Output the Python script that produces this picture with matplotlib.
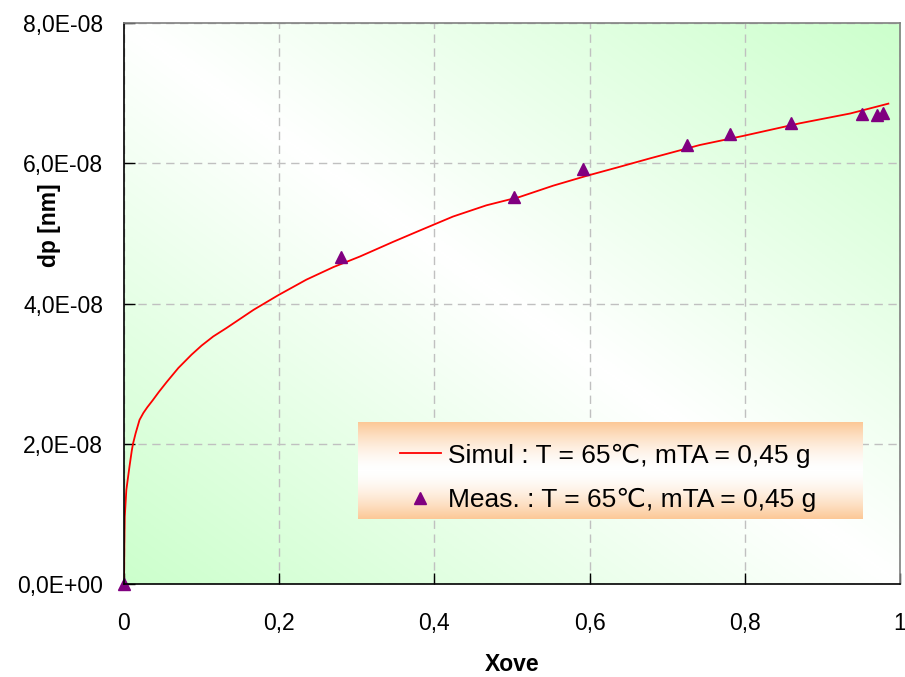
import numpy as np
import matplotlib
matplotlib.use("Agg")
import matplotlib.pyplot as plt
from matplotlib.colors import LinearSegmentedColormap
from matplotlib.ticker import FixedLocator, FuncFormatter

plt.rcParams['font.family'] = ['Liberation Sans', 'DejaVu Sans']

## Simulated curve
simX = [0.0, 0.0005, 0.001, 0.003, 0.007, 0.010, 0.0116, 0.015, 0.020, 0.025, 0.030,
        0.037, 0.045, 0.055, 0.070, 0.087, 0.100, 0.115, 0.132, 0.167, 0.199, 0.235,
        0.270, 0.304, 0.347, 0.381, 0.424, 0.467, 0.510, 0.553, 0.596, 0.639, 0.678,
        0.742, 0.798, 0.871, 0.936, 0.985]
simY = [0.0, 0.60e-8, 0.96e-8, 1.34e-8, 1.67e-8, 1.90e-8, 2.00e-8, 2.15e-8, 2.34e-8, 2.44e-8, 2.52e-8,
        2.62e-8, 2.74e-8, 2.88e-8, 3.08e-8, 3.27e-8, 3.40e-8, 3.53e-8, 3.65e-8, 3.91e-8, 4.12e-8, 4.34e-8,
        4.52e-8, 4.67e-8, 4.88e-8, 5.04e-8, 5.24e-8, 5.40e-8, 5.52e-8, 5.68e-8, 5.82e-8, 5.95e-8, 6.07e-8,
        6.26e-8, 6.39e-8, 6.57e-8, 6.71e-8, 6.85e-8]

## Measured points
measX = [0.0, 0.28, 0.503, 0.592, 0.726, 0.781, 0.859, 0.951, 0.971, 0.978]
measY = [0.0, 4.66e-8, 5.52e-8, 5.92e-8, 6.26e-8, 6.42e-8, 6.57e-8, 6.70e-8, 6.69e-8, 6.72e-8]

xTicks = [0, 0.2, 0.4, 0.6, 0.8, 1.0]
yTicks = [0, 2e-8, 4e-8, 6e-8, 8e-8]

simLabel = "Simul : T = 65\u2103, mTA = 0,45 g"
measLabel = "Meas. : T = 65\u2103, mTA = 0,45 g"

GREEN = '#CCFFCC'
ORANGE = '#FCC896'

fig = plt.figure(figsize=(9.05, 6.77), dpi=100)
ax = fig.add_axes([124/905, 1-584/677, 776/905, 561/677])
ax.set_xlim(0, 1)
ax.set_ylim(0, 8e-8)

# Diagonal background gradient: green corners, white band along the anti-diagonal
n = 300
gx, gy = np.meshgrid(np.linspace(0, 1, n), np.linspace(0, 1, n))
t = np.abs((gx + gy) / 2 - 0.5) * 2
bgMap = LinearSegmentedColormap.from_list('bg', ['#FFFFFF', GREEN])
ax.imshow(t, cmap=bgMap, origin='lower', extent=(0, 1, 0, 1), transform=ax.transAxes,
          aspect='auto', zorder=0, interpolation='bilinear')

# Grid
ax.grid(True, color='#C0C0C0', linestyle=(0, (6, 4)), linewidth=1, zorder=1)

# Data
ax.plot(simX, simY, color='red', linewidth=1.3, label=simLabel, zorder=3)
ax.plot(measX, measY, linestyle='none', marker='^', markersize=9, color='#800080',
        label=measLabel, zorder=4, clip_on=False)

# Legend background (orange - white - orange)
lx0, lx1 = (358-124)/776, (862-124)/776
ly0, ly1 = (584-519)/561, (584-422)/561
lg = np.abs(np.linspace(-1, 1, 200))[:, None] ** 1.6
legMap = LinearSegmentedColormap.from_list('leg', ['#FFFFFF', ORANGE])
ax.imshow(lg, cmap=legMap, extent=(lx0, lx1, ly0, ly1), transform=ax.transAxes,
          aspect='auto', zorder=5, interpolation='bilinear')

leg = ax.legend(loc='center left', bbox_to_anchor=((400-124)/776, (584-478)/561),
                frameon=False, fontsize=19, handlelength=1.55, handletextpad=0.25,
                labelspacing=0.78, borderpad=0, borderaxespad=0, numpoints=1)
leg.set_zorder(6)

# Ticks and labels
ax.xaxis.set_major_locator(FixedLocator(xTicks))
ax.yaxis.set_major_locator(FixedLocator(yTicks))
ax.xaxis.set_major_formatter(FuncFormatter(lambda v, p: ('%g' % v).replace('.', ',')))
ax.yaxis.set_major_formatter(FuncFormatter(lambda v, p: ('%.1E' % v).replace('.', ',')))
ax.tick_params(direction='in', length=8, width=1, labelsize=16.5, colors='black')
ax.tick_params(axis='y', pad=15)
ax.tick_params(axis='x', pad=20)

ax.set_xlabel('Xove', fontsize=16.5, fontweight='bold', labelpad=13)
ax.set_ylabel('dp [nm]', fontsize=16.5, fontweight='bold')
ax.yaxis.set_label_coords(-0.081, (584-225)/561)

for s in ['left', 'bottom']:
    ax.spines[s].set_color('black')
for s in ['top', 'right']:
    ax.spines[s].set_color('#808080')
for s in ax.spines.values():
    s.set_linewidth(1.2)
    s.set_zorder(7)

fig.savefig('out.png', dpi=100)
